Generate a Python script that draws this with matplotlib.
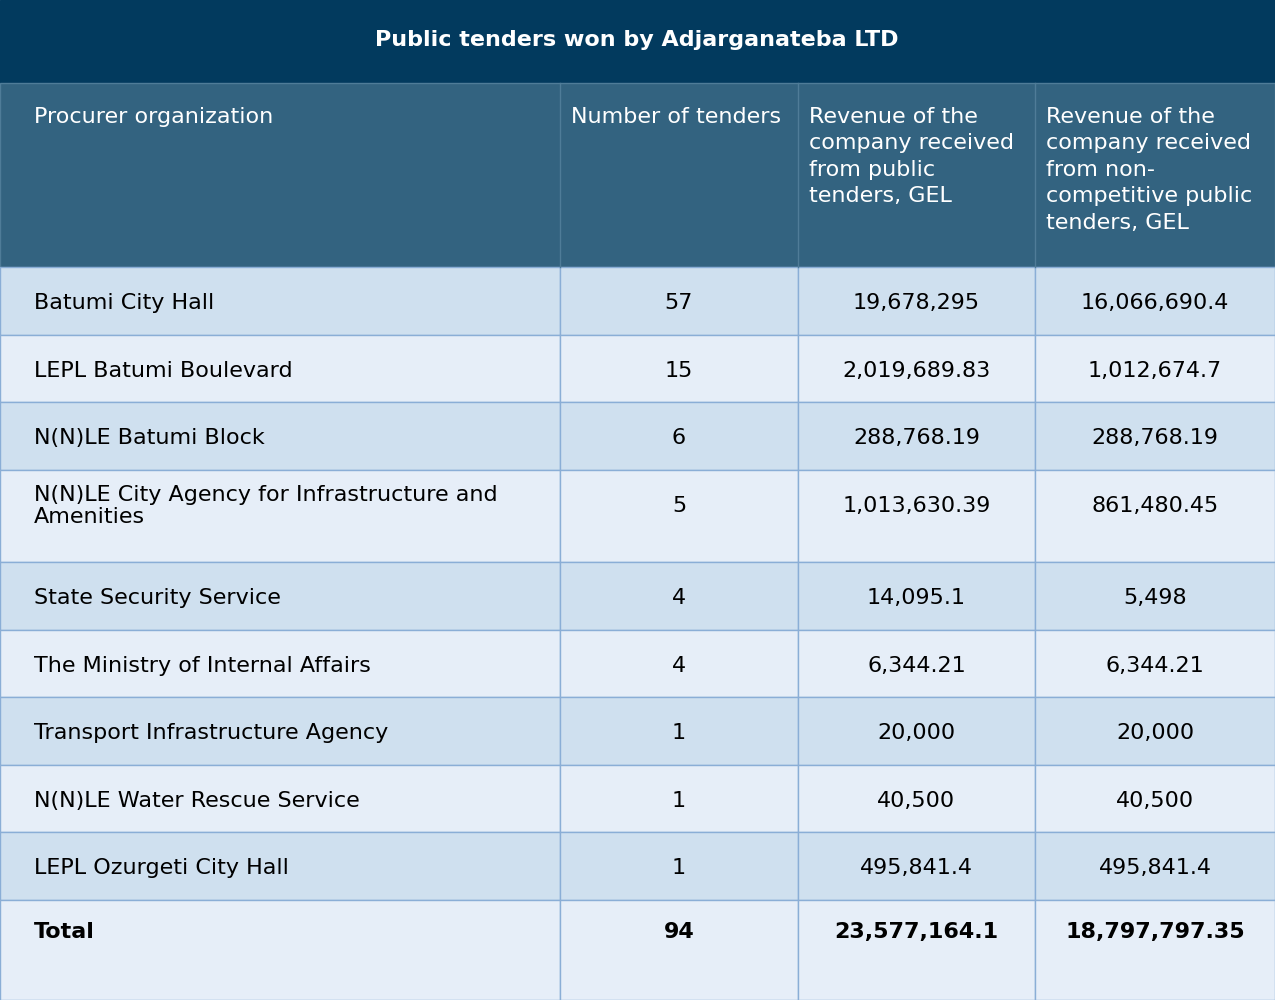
import matplotlib
matplotlib.use("Agg")
from matplotlib import pyplot as plt
from matplotlib.patches import Rectangle

title = "Public tenders won by Adjarganateba LTD"
headers = ["Procurer organization", "Number of tenders",
           "Revenue of the\ncompany received\nfrom public\ntenders, GEL",
           "Revenue of the\ncompany received\nfrom non-\ncompetitive public\ntenders, GEL"]
organizations = ["Batumi City Hall", "LEPL Batumi Boulevard", "N(N)LE Batumi Block",
                 "N(N)LE City Agency for Infrastructure and\nAmenities",
                 "State Security Service", "The Ministry of Internal Affairs",
                 "Transport Infrastructure Agency", "N(N)LE Water Rescue Service",
                 "LEPL Ozurgeti City Hall"]
n_tenders = ["57", "15", "6", "5", "4", "4", "1", "1", "1"]
revenue = ["19,678,295", "2,019,689.83", "288,768.19", "1,013,630.39", "14,095.1",
           "6,344.21", "20,000", "40,500", "495,841.4"]
revenue_noncomp = ["16,066,690.4", "1,012,674.7", "288,768.19", "861,480.45", "5,498",
                   "6,344.21", "20,000", "40,500", "495,841.4"]
total = ["Total", "94", "23,577,164.1", "18,797,797.35"]

# layout in pixels
col_x = [0, 560, 798, 1035, 1275]
row_h = [68, 67, 68, 92, 68, 67, 68, 67, 68]
title_h, header_h, total_h = 83, 184, 100

fig = plt.figure(figsize=(12.75, 10), dpi=100)
ax = fig.add_axes([0, 0, 1, 1])
ax.set_xlim(0, 1275)
ax.set_ylim(1000, 0)
ax.axis("off")

fs = 16
ax.add_patch(Rectangle((0, 0), 1275, title_h, color="#023a5e"))
ax.text(637, 40, title, color="white", fontsize=fs, fontweight="bold",
        ha="center", va="center")

y = title_h
ax.add_patch(Rectangle((0, y), 1275, header_h, facecolor="#336380",
                       edgecolor="#4f7c98", lw=1))
for i, h in enumerate(headers):
    x = 34 if i == 0 else col_x[i] + 11
    ax.text(x, y + 24, h, color="white", fontsize=fs, ha="left", va="top",
            linespacing=1.4)
for cx in col_x[1:-1]:
    ax.plot([cx, cx], [y, y + header_h], color="#4f7c98", lw=1)
y += header_h

rows = list(zip(organizations, n_tenders, revenue, revenue_noncomp))
for r, (vals, h) in enumerate(zip(rows, row_h)):
    fc = "#cfe0ef" if r % 2 == 0 else "#e6eef8"
    for c in range(4):
        ax.add_patch(Rectangle((col_x[c], y), col_x[c + 1] - col_x[c], h,
                               facecolor=fc, edgecolor="#8aaed6", lw=1))
    ty = y + 36 if h < 80 else y + 36
    ax.text(34, ty, vals[0], fontsize=fs, ha="left", va="center", linespacing=1.1)
    for c in range(1, 4):
        ax.text((col_x[c] + col_x[c + 1]) / 2, ty, vals[c], fontsize=fs,
                ha="center", va="center")
    y += h

for c in range(4):
    ax.add_patch(Rectangle((col_x[c], y), col_x[c + 1] - col_x[c], total_h,
                           facecolor="#e6eef8", edgecolor="#8aaed6", lw=1))
ax.text(34, y + 32, total[0], fontsize=fs, fontweight="bold", ha="left", va="center")
for c in range(1, 4):
    ax.text((col_x[c] + col_x[c + 1]) / 2, y + 32, total[c], fontsize=fs,
            fontweight="bold", ha="center", va="center")

fig.savefig("out.png", dpi=100)
